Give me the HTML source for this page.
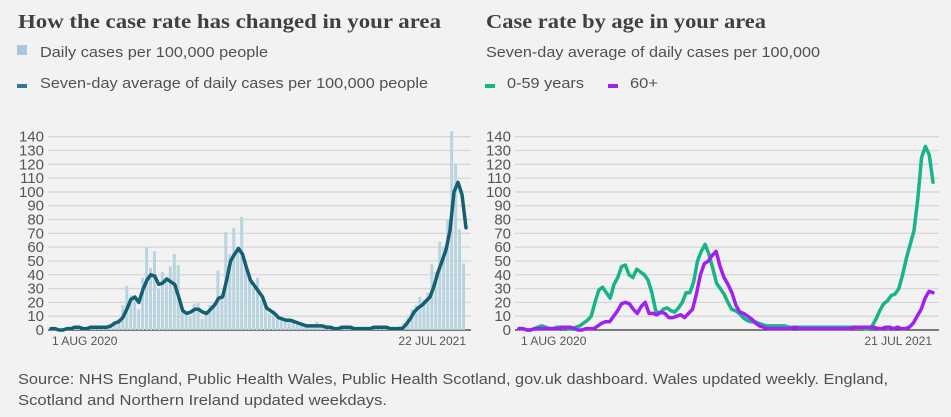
<!DOCTYPE html>
<html><head><meta charset="utf-8"><style>
body{margin:0;width:951px;height:417px;background:#f2f2f2;overflow:hidden;font-family:"Liberation Sans",sans-serif}
svg{display:block}
</style></head><body>
<svg id="c" width="951" height="417" xmlns="http://www.w3.org/2000/svg">
<text x="18" y="28" font-family="Liberation Serif,serif" font-weight="bold" font-size="20" fill="#404040" textLength="423" lengthAdjust="spacingAndGlyphs">How the case rate has changed in your area</text>
<rect x="17" y="45" width="10" height="10" fill="#a8cad8"/>
<text x="40" y="57" font-size="15" fill="#505050" textLength="228" lengthAdjust="spacingAndGlyphs">Daily cases per 100,000 people</text>
<rect x="17" y="84" width="10" height="4" fill="#2e7a96"/>
<text x="40" y="88" font-size="15" fill="#505050" textLength="388" lengthAdjust="spacingAndGlyphs">Seven-day average of daily cases per 100,000 people</text>
<text x="486" y="28" font-family="Liberation Serif,serif" font-weight="bold" font-size="20" fill="#404040" textLength="280" lengthAdjust="spacingAndGlyphs">Case rate by age in your area</text>
<text x="486" y="57" font-size="15" fill="#505050" textLength="334" lengthAdjust="spacingAndGlyphs">Seven-day average of daily cases per 100,000</text>
<rect x="485" y="84" width="10" height="4" fill="#17b48a"/>
<text x="507" y="88" font-size="15" fill="#505050" textLength="77" lengthAdjust="spacingAndGlyphs">0-59 years</text>
<rect x="608" y="84" width="10" height="4" fill="#a020f0"/>
<text x="630" y="88" font-size="15" fill="#505050" textLength="28" lengthAdjust="spacingAndGlyphs">60+</text>
<text x="18" y="384" font-size="15" fill="#505050" textLength="870" lengthAdjust="spacingAndGlyphs">Source: NHS England, Public Health Wales, Public Health Scotland, gov.uk dashboard. Wales updated weekly. England,</text>
<text x="18" y="405" font-size="15" fill="#505050" textLength="369" lengthAdjust="spacingAndGlyphs">Scotland and Northern Ireland updated weekdays.</text>
<g id="left"></g><g id="right"></g>
</svg>
<script>
const yTicks=[0,10,20,30,40,50,60,70,80,90,100,110,120,130,140];
const leftDates=["1 AUG 2020","22 JUL 2021"];
const rightDates=["1 AUG 2020","21 JUL 2021"];
const avgLine=[1,1,0,0,1,1,2,2,1,1,2,2,2,2,2,3,5,6,9,15,22,24,20,29,36,40,39,33,34,37,35,33,24,14,12,13,15,15,13,12,15,18,23,24,36,50,55,59,55,45,36,32,28,24,16,14,12,9,8,7,7,6,5,4,3,3,3,3,3,2,2,1,1,2,2,2,1,1,1,1,1,2,2,2,2,1,1,1,1,4,8,13,16,18,21,24,32,42,50,58,72,100,107,98,74];
const dailyBars=[1,2,0,1,2,1,3,2,1,2,3,2,3,2,2,4,6,8,18,32,25,22,15,38,60,45,57,30,42,38,46,55,47,16,12,10,19,20,8,13,18,20,43,26,71,55,74,60,82,50,40,30,38,22,18,12,14,10,8,8,7,6,6,5,4,3,4,6,4,3,3,2,2,3,2,3,1,2,1,2,2,3,2,3,2,1,2,2,3,5,9,15,18,24,22,27,48,42,64,60,80,144,120,73,48];
const young=[1,1,0,0,1,2,3,2,1,1,2,2,2,1,1,2,3,5,7,10,20,29,31,27,23,33,38,46,47,40,38,44,42,40,36,27,14,12,15,16,14,13,16,20,27,27,35,50,57,62,55,45,34,30,26,20,15,14,12,9,7,6,6,5,4,3,3,3,3,3,3,2,2,2,2,2,2,2,2,2,2,2,2,2,2,2,2,2,2,2,2,1,1,3,8,14,19,21,25,26,30,40,52,62,72,95,125,133,127,107];
const old=[1,1,0,0,1,1,1,1,1,1,1,2,2,2,1,0,0,1,1,1,3,5,6,6,10,14,19,20,19,15,12,17,20,12,12,11,13,12,9,9,10,11,9,12,15,26,40,48,50,54,57,46,38,33,27,18,13,12,10,8,5,3,2,1,1,1,1,1,1,1,2,1,1,1,1,1,1,1,1,1,1,1,1,1,1,2,2,2,2,2,2,1,1,2,2,1,2,1,1,2,5,10,15,23,28,27];
const NS='http://www.w3.org/2000/svg';
function mk(parent,tag,attrs){const e=document.createElementNS(NS,tag);for(const k in attrs)e.setAttribute(k,attrs[k]);parent.appendChild(e);return e;}
const y0=330,yTop=136.7;
function yScale(v){return y0-(v/140)*(y0-yTop);}
function axes(g,gx0,gx1,labelX,dates,dx0,dx1){
  yTicks.forEach(t=>{
    const l=mk(g,'line',{x1:gx0,x2:gx1,y1:yScale(t),y2:yScale(t),stroke:t===0?'#333':'#d6d6d6','stroke-width':t===0?1.2:1.3});
    
    
    const tx=mk(g,'text',{x:labelX,y:yScale(t)+5,'text-anchor':'end','font-size':'15',fill:'#555'});
    tx.textContent=t;
    
    
  });
  const a=mk(g,'text',{x:dx0,y:345,'font-size':'12',fill:'#555'});a.textContent=dates[0];
  
  
  const b=mk(g,'text',{x:dx1,y:345,'font-size':'12',fill:'#555','text-anchor':'end'});b.textContent=dates[1];
  
  
}
function line(g,arr,x0,x1,color,name){
  const xs=i=>x0+i*(x1-x0)/(arr.length-1);
  const d=arr.map((v,i)=>(i?'L':'M')+xs(i).toFixed(1)+','+yScale(v).toFixed(1)).join('');
  const p=mk(g,'path',{d:d,fill:'none',stroke:color,'stroke-width':3.5,'stroke-linejoin':'round','stroke-linecap':'round'});
  
  
}
const L=document.getElementById('left'),R=document.getElementById('right');
axes(L,48,471,44,leftDates,52,466);
const bx0=50,bx1=466,bw=(bx1-bx0)/dailyBars.length;
dailyBars.forEach((v,i)=>{
  const r=mk(L,'rect',{x:bx0+i*bw,y:yScale(v),width:Math.max(bw-1,1),height:y0-yScale(v),fill:'#b9d4df'});
  
  
});
line(L,avgLine,51,466,'#155f75','seven-day-average-line');
axes(R,515,939,511,rightDates,521,932);
line(R,young,519,933,'#17b48a','age-0-59-line');
line(R,old,519,933,'#a020f0','age-60-plus-line');
</script>
</body></html>
